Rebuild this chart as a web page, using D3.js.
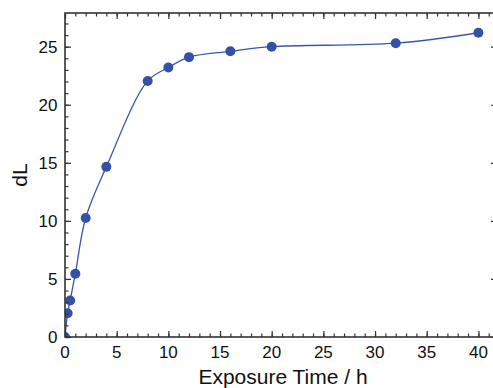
<!DOCTYPE html>
<html>
<head>
<meta charset="utf-8">
<script src="https://cdn.jsdelivr.net/npm/d3@7"></script>
<style>
  body { margin: 0; background: #fff; }
  text { font-family: "Liberation Sans", Arial, sans-serif; fill: #111; }
</style>
</head>
<body>
<script>
// data
var hours = [0, 0.25, 0.5, 1, 2, 4, 8, 10, 12, 16, 20, 32, 40];
var dL = [0, 2.05, 3.15, 5.45, 10.25, 14.65, 22.05, 23.2, 24.1, 24.6, 25.0, 25.3, 26.2];
var xTicks = [0, 5, 10, 15, 20, 25, 30, 35, 40];
var yTicks = [0, 5, 10, 15, 20, 25];

var svgWidth = 493, svgHeight = 388;
var margin = {top: 13, right: -4, bottom: 51, left: 65};
var width = svgWidth - margin.left - margin.right;
var height = svgHeight - margin.top - margin.bottom;

var svg = d3.select("body").append("svg").attr("width", svgWidth).attr("height", svgHeight);
var chart = svg.append("g").attr("transform", `translate(${margin.left},${margin.top})`);

svg.append("defs").append("clipPath").attr("id", "plotclip")
  .append("rect").attr("width", width).attr("height", height);

var x = d3.scaleLinear().domain([0, 41.8]).range([0, width]);
var y = d3.scaleLinear().domain([0, 27.9]).range([height, 0]);

var frameColor = "#333";
var minorX = d3.range(0, 42, 1);
var minorY = d3.range(0, 28, 1);

// smooth curve through the points
var pts = hours.map(function(h, i){ return [h, dL[i]]; });
var line = d3.line()
  .x(function(d){ return x(d[0]); })
  .y(function(d){ return y(d[1]); })
  .curve(d3.curveCatmullRom.alpha(0.5));

var plot = chart.append("g").attr("clip-path", "url(#plotclip)");

plot.append("path")
  .datum(pts)
  .attr("d", line)
  .attr("fill", "none")
  .attr("stroke", "#3a56b0")
  .attr("stroke-width", 1.3);

plot.selectAll(".dot")
  .data(pts)
  .enter().append("circle")
  .attr("class", "dot")
  .attr("r", 5)
  .attr("cx", function(d){ return x(d[0]); })
  .attr("cy", function(d){ return y(d[1]); })
  .style("fill", "#3451a7");

// ticks pointing inward, on all 4 sides
function tickSide(axisFn, scale, transform, minor) {
  var gMinor = chart.append("g").attr("transform", transform)
    .call(axisFn(scale).tickValues(minor).tickSize(-3.5).tickFormat(""));
  var gMajor = chart.append("g").attr("transform", transform)
    .call(axisFn(scale).tickValues(minor.filter(function(d){ return d % 5 === 0; })).tickSize(-6).tickFormat(""));
  [gMinor, gMajor].forEach(function(g){
    g.select(".domain").remove();
    g.selectAll("line").attr("stroke", frameColor).attr("stroke-width", 1.2);
  });
}
tickSide(d3.axisBottom, x, `translate(0,${height})`, minorX);
tickSide(d3.axisTop, x, "translate(0,0)", minorX);
tickSide(d3.axisLeft, y, "translate(0,0)", minorY);
tickSide(d3.axisRight, y, `translate(${width},0)`, minorY);

// frame
chart.append("rect")
  .attr("width", width).attr("height", height)
  .attr("fill", "none").attr("stroke", frameColor).attr("stroke-width", 1.6);

// tick labels
chart.selectAll(".xlab").data(xTicks).enter().append("text")
  .attr("class", "xlab")
  .attr("x", function(d){ return x(d); })
  .attr("y", height + 20.5)
  .attr("text-anchor", "middle")
  .style("font-size", "17px")
  .text(function(d){ return d; });

chart.selectAll(".ylab").data(yTicks).enter().append("text")
  .attr("class", "ylab")
  .attr("x", -7.5)
  .attr("y", function(d){ return y(d) + 6; })
  .attr("text-anchor", "end")
  .style("font-size", "17px")
  .text(function(d){ return d; });

// axis titles
svg.append("text")
  .attr("x", 283).attr("y", 384)
  .attr("text-anchor", "middle")
  .style("font-size", "21px")
  .text("Exposure Time / h");

svg.append("text")
  .attr("transform", "translate(27,175)rotate(-90)")
  .attr("text-anchor", "middle")
  .style("font-size", "21px")
  .text("dL");
</script>
</body>
</html>
